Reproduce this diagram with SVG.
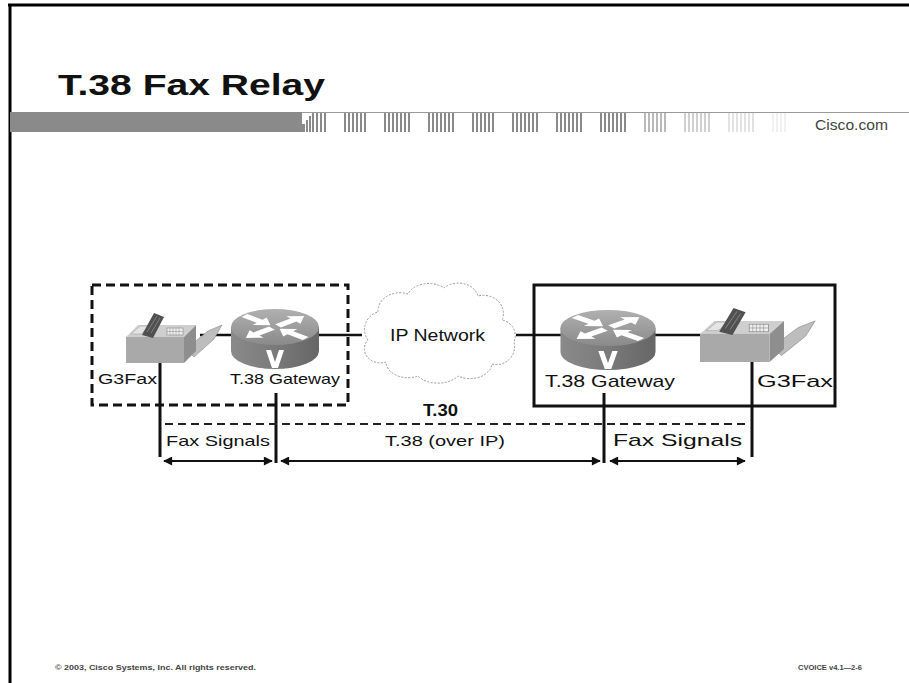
<svg xmlns="http://www.w3.org/2000/svg" width="909" height="683" viewBox="0 0 909 683">
  <style>
    text { font-family: "Liberation Sans", Arial, sans-serif; fill: #111; }
    .lbl { font-size: 15px; }
    .lbl-lg { font-size: 17px; }
    .bold { font-weight: bold; }
    .wire { stroke: #111; stroke-width: 2.5; fill: none; }
    .drop { stroke: #111; stroke-width: 3; fill: none; }
    .span { stroke: #111; stroke-width: 2; fill: none; marker-start: url(#ah); marker-end: url(#ah); }
    .t30 { stroke: #222; stroke-width: 2; stroke-dasharray: 8 5; fill: none; }
    .foot { font-size: 8px; font-weight: bold; fill: #444; }
  </style>
  <defs>
    <marker id="ah" viewBox="0 0 10 10" refX="9" refY="5" markerWidth="11" markerHeight="9" markerUnits="userSpaceOnUse" orient="auto-start-reverse">
      <path d="M0,0 L10,5 L0,10 z" fill="#111"/>
    </marker>
    <pattern id="bars" width="4" height="20" patternUnits="userSpaceOnUse">
      <rect width="2" height="20" fill="#8a8a8a"/>
    </pattern>
    <linearGradient id="rtop" x1="0" y1="0" x2="0" y2="1">
      <stop offset="0" stop-color="#b0b0b0"/>
      <stop offset="1" stop-color="#8a8a8a"/>
    </linearGradient>
    <linearGradient id="rside" x1="0" y1="0" x2="1" y2="0">
      <stop offset="0" stop-color="#8a8a8a"/>
      <stop offset="0.5" stop-color="#7a7a7a"/>
      <stop offset="1" stop-color="#666"/>
    </linearGradient>
    <!-- router: origin at the centre of the top face -->
    <g id="router">
      <path d="M-44,0 L-44,24 A44,18 0 0 0 44,24 L44,0 Z" fill="url(#rside)"/>
      <ellipse cx="0" cy="0" rx="44" ry="18" fill="url(#rtop)"/>
      <g transform="scale(1,0.45)" fill="#fff">
        <polygon transform="rotate(-40)" points="4,-4.5 24,-4.5 24,-11 38,0 24,11 24,4.5 4,4.5"/>
        <polygon transform="rotate(140)" points="4,-4.5 24,-4.5 24,-11 38,0 24,11 24,4.5 4,4.5"/>
        <polygon transform="rotate(40)" points="6,0 20,-11 20,-4.5 40,-4.5 40,4.5 20,4.5 20,11"/>
        <polygon transform="rotate(-140)" points="6,0 20,-11 20,-4.5 40,-4.5 40,4.5 20,4.5 20,11"/>
      </g>
      <polygon points="-9,23 -4,23 0,35 4,23 9,23 3,41 -3,41" fill="#fff"/>
    </g>
    <!-- fax machine: origin at the bottom-left of the front face -->
    <g id="fax">
      <polygon points="60,-14 82,-32 96,-38 88,-24 68,-6" fill="#bdbdbd" stroke="#8a8a8a" stroke-width="0.6"/>
      <polygon points="0,-26 12,-38 70,-38 58,-26" fill="#cfcfcf"/>
      <polygon points="58,-26 70,-38 70,-12 58,0" fill="#8e8e8e"/>
      <rect x="0" y="-26" width="58" height="26" fill="#a9a9a9"/>
      <polygon points="5,-29 14,-37 24,-37 15,-29" fill="#e4e4e4" stroke="#999" stroke-width="0.5"/>
      <polygon points="16,-28 28,-50 38,-46 27,-25" fill="#505050"/>
      <path d="M21,-31 L31,-47 M25,-30 L34,-45" stroke="#8a8a8a" stroke-width="0.8"/>
      <rect x="41" y="-35" width="16" height="7" fill="#eee" stroke="#777" stroke-width="0.5"/>
      <path d="M44,-35 V-28 M47,-35 V-28 M50,-35 V-28 M53,-35 V-28 M41,-31.5 H57" stroke="#888" stroke-width="0.5"/>
    </g>
  </defs>

  <rect width="909" height="683" fill="#fff"/>

  <!-- slide frame -->
  <path d="M8,5 H909 M10,5 V683" stroke="#000" stroke-width="3" fill="none"/>

  <!-- header band -->
  <g id="header">
    <rect x="10" y="112" width="292" height="20" fill="#8a8a8a"/>
    <rect x="302" y="124" width="3" height="8" fill="#8a8a8a"/>
    <rect x="306" y="120" width="2" height="12" fill="#8a8a8a"/>
    <rect x="309" y="116" width="2" height="16" fill="#8a8a8a"/>
    <line x1="302" y1="112.5" x2="909" y2="112.5" stroke="#9a9a9a" stroke-width="1.2"/>
    <g fill="url(#bars)">
      <rect x="312" y="113" width="16" height="19"/>
      <rect x="344" y="113" width="24" height="19"/>
      <rect x="384" y="113" width="26" height="19"/>
      <rect x="428" y="113" width="28" height="19"/>
      <rect x="472" y="113" width="24" height="19"/>
      <rect x="512" y="113" width="26" height="19"/>
      <rect x="556" y="113" width="28" height="19"/>
      <rect x="600" y="113" width="28" height="19"/>
      <rect x="644" y="113" width="24" height="19" opacity="0.6"/>
      <rect x="684" y="113" width="26" height="19" opacity="0.4"/>
      <rect x="728" y="113" width="26" height="19" opacity="0.25"/>
      <rect x="772" y="113" width="16" height="19" opacity="0.12"/>
    </g>
    <text x="58" y="95" class="bold" font-size="30" textLength="267" lengthAdjust="spacingAndGlyphs">T.38 Fax Relay</text>
    <text x="815" y="130" font-size="15" style="fill:#444" textLength="73" lengthAdjust="spacingAndGlyphs">Cisco.com</text>
  </g>

  <!-- connectors -->
  <g id="connectors">
    <line class="wire" x1="200" y1="335" x2="362" y2="335"/>
    <line class="wire" x1="516" y1="335" x2="720" y2="335"/>
    <line class="drop" x1="160" y1="360" x2="160" y2="457"/>
    <line class="drop" x1="276" y1="393" x2="276" y2="463"/>
    <line class="drop" x1="604" y1="393" x2="604" y2="463"/>
    <line class="drop" x1="752" y1="360" x2="752" y2="457"/>
    <line class="t30" x1="165" y1="424" x2="750" y2="424"/>
    <line class="span" x1="164" y1="461" x2="272" y2="461"/>
    <line class="span" x1="281" y1="461" x2="600" y2="461"/>
    <line class="span" x1="610" y1="461" x2="745" y2="461"/>
  </g>

  <!-- local site A (dashed) -->
  <g id="site-a">
    <rect x="92" y="285" width="256" height="120" fill="none" stroke="#111" stroke-width="3" stroke-dasharray="9 5"/>
  </g>
  <!-- local site B (solid) -->
  <g id="site-b">
    <rect x="534" y="285" width="301" height="121" fill="none" stroke="#111" stroke-width="3"/>
  </g>

  <g id="fax-a">
    <use href="#fax" transform="translate(126,363)"/>
    <text x="98" y="384" class="lbl" textLength="59" lengthAdjust="spacingAndGlyphs">G3Fax</text>
  </g>
  <g id="gateway-a">
    <use href="#router" transform="translate(275,327)"/>
    <text x="230" y="384" class="lbl" textLength="110" lengthAdjust="spacingAndGlyphs">T.38 Gateway</text>
  </g>

  <g id="ip-network">
    <path d="M368,340 a18,18 0 0 1 10,-28 a22,18 0 0 1 30,-18 a22,16 0 0 1 36,-6 a20,16 0 0 1 34,8 a20,18 0 0 1 24,24 a16,16 0 0 1 12,22 a18,18 0 0 1 -22,22 a22,16 0 0 1 -34,12 a24,16 0 0 1 -40,0 a22,16 0 0 1 -32,-14 a16,14 0 0 1 -18,-22 z" fill="#fff" stroke="#9a9a9a" stroke-width="1" stroke-dasharray="2 1.5"/>
    <text x="390" y="341" font-size="16" textLength="95" lengthAdjust="spacingAndGlyphs">IP Network</text>
  </g>

  <g id="gateway-b">
    <use href="#router" transform="translate(608,328) scale(1.08,1)"/>
    <text x="545" y="387" class="lbl-lg" textLength="130" lengthAdjust="spacingAndGlyphs">T.38 Gateway</text>
  </g>
  <g id="fax-b">
    <use href="#fax" transform="translate(700,362) scale(1.2,1.08)"/>
    <text x="757" y="387" class="lbl-lg" textLength="76" lengthAdjust="spacingAndGlyphs">G3Fax</text>
  </g>

  <!-- span labels -->
  <g id="span-labels">
    <text x="423" y="416" class="bold" font-size="17" textLength="35" lengthAdjust="spacingAndGlyphs">T.30</text>
    <text x="166" y="446" class="lbl" textLength="104" lengthAdjust="spacingAndGlyphs">Fax Signals</text>
    <text x="385" y="446" class="lbl" textLength="120" lengthAdjust="spacingAndGlyphs">T.38 (over IP)</text>
    <text x="613" y="446" class="lbl-lg" textLength="129" lengthAdjust="spacingAndGlyphs">Fax Signals</text>
  </g>

  <!-- footer -->
  <text x="55" y="670" class="foot" textLength="201" lengthAdjust="spacingAndGlyphs">© 2003, Cisco Systems, Inc. All rights reserved.</text>
  <text x="798" y="670" class="foot" textLength="64" lengthAdjust="spacingAndGlyphs">CVOICE v4.1—2-6</text>
</svg>
